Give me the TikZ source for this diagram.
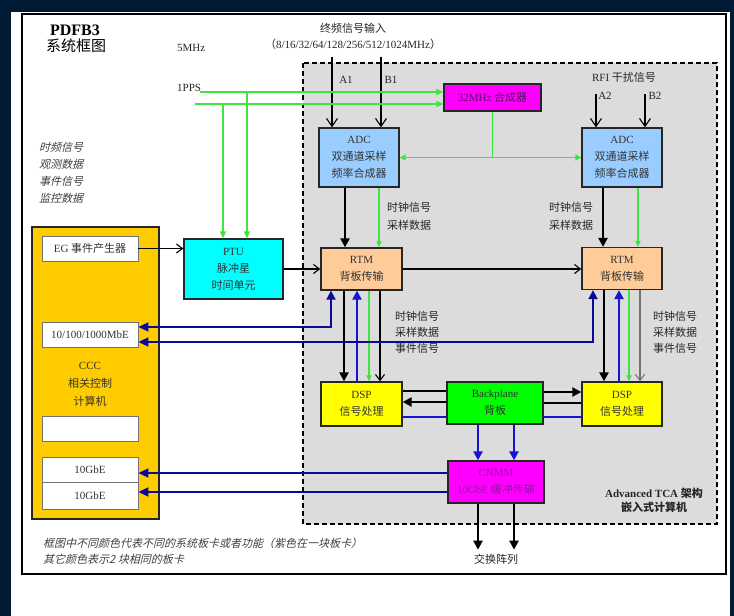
\documentclass[tikz,border=0pt]{standalone}
\usepackage{fontspec}
\setmainfont{Liberation Serif}
\newfontfamily\cj{Noto Sans CJK SC}
\newfontfamily\cjit{Noto Sans CJK SC}[FakeSlant=0.25]
\usetikzlibrary{arrows.meta}
\definecolor{navy}{RGB}{2,27,52}
\definecolor{areagray}{RGB}{220,220,220}
\definecolor{adcblue}{RGB}{153,204,255}
\definecolor{rtmpeach}{RGB}{255,204,153}
\definecolor{dspyellow}{RGB}{255,255,0}
\definecolor{bpgreen}{RGB}{0,255,0}
\definecolor{cardmag}{RGB}{255,0,255}
\definecolor{ptucyan}{RGB}{0,255,255}
\definecolor{cccgold}{RGB}{255,204,0}
\definecolor{linegreen}{RGB}{60,230,60}
\definecolor{netblue}{RGB}{20,20,210}
\definecolor{ethblue}{RGB}{10,10,150}
\definecolor{magtext}{RGB}{150,20,170}
\tikzset{
  box/.style={draw=black!85, line width=1.3pt, align=center, inner sep=0pt, text=black!80, font=\fontsize{11}{17}\selectfont},
  slot/.style={draw=black!55, line width=0.8pt, fill=white, minimum width=96pt, inner sep=0pt, text=black!80, font=\fontsize{11}{13}\selectfont},
  lbl/.style={inner sep=0pt, text=black!85, font=\fontsize{11}{17}\selectfont},
  zhlbl/.style={inner sep=0pt, align=left, text=black!85, font=\cj\fontsize{11}{18}\selectfont},
  itl/.style={inner sep=0pt, align=left, text=black!75, font=\cjit\fontsize{11}{17}\selectfont},
  bus/.style={line width=2.6pt, -{Triangle[length=9pt,width=9pt]}},
  busline/.style={line width=2.6pt},
  sig/.style={line width=1.1pt, -{Straight Barb[length=6pt,width=9pt]}},
  inarr/.style={line width=1.1pt, -{Straight Barb[length=8pt,width=11pt]}},
  clk/.style={draw=linegreen, line width=1.2pt, -{Triangle[length=6pt,width=5pt]}},
  clkboth/.style={draw=linegreen, line width=1.4pt, {Triangle[length=6pt,width=6pt]}-{Triangle[length=6pt,width=6pt]}},
  pps/.style={draw=linegreen, line width=2pt, -{Triangle[length=7pt,width=6pt]}},
  net/.style={draw=netblue, line width=2.4pt, -{Triangle[length=9pt,width=9pt]}},
  netline/.style={draw=netblue, line width=2pt},
  eth/.style={draw=ethblue, line width=1.8pt, -{Triangle[length=10pt,width=9pt]}},
  ethboth/.style={draw=ethblue, line width=1.8pt, {Triangle[length=10pt,width=9pt]}-{Triangle[length=9pt,width=9pt]}}
}
\begin{document}
\begin{tikzpicture}[x=1pt,y=-1pt,line join=miter]
\useasboundingbox (0,0) rectangle (734,616);
\fill[navy] (0,0) rectangle (734,616);
\fill[white] (11,12) rectangle (730,616);
\draw[line width=1.5pt] (22,14) rectangle (726,574);
\draw[line width=1.8pt, dash pattern=on 5pt off 3pt, fill=areagray] (303,63) rectangle (717,524);

\node[font=\bfseries\fontsize{16}{18}\selectfont] (title) at (75,30) {PDFB3};
\node[font=\cj\fontsize{15}{17}\selectfont] (titlezh) at (76,46) {系统框图};
\node[lbl, anchor=west] (mhz) at (177,48) {5MHz};
\node[lbl, anchor=west] (ppslbl) at (177,88) {1PPS};
\node[itl] (sigs) at (61,172.5) {时频信号\\观测数据\\事件信号\\监控数据};
\node[font=\cj\fontsize{11}{13}\selectfont, text=black!85] (ifin) at (353,28) {终频信号输入};
\node[lbl] (ifrange) at (353,44) {{\cj （}8/16/32/64/128/256/512/1024MHz{\cj ）}};
\node[lbl] (rfi) at (624,77) {RFI {\cj 干扰信号}};

\node[box, fill=adcblue, minimum width=80pt, minimum height=59pt] (adcL) at (359,157.5) {ADC\\{\cj 双通道采样}\\{\cj 频率合成器}};
\node[box, fill=adcblue, minimum width=80pt, minimum height=59pt] (adcR) at (622,157.5) {ADC\\{\cj 双通道采样}\\{\cj 频率合成器}};
\node[box, fill=cardmag, minimum width=97pt, minimum height=27pt, text=magtext!60!black] (syn) at (492.5,97.5) {32MHz {\cj 合成器}};
\node[box, fill=rtmpeach, minimum width=81pt, minimum height=42pt] (rtmL) at (361.5,269) {RTM\\{\cj 背板传输}};
\node[box, fill=rtmpeach, minimum width=80pt, minimum height=42pt] (rtmR) at (622,268.5) {RTM\\{\cj 背板传输}};
\node[box, fill=dspyellow, minimum width=81pt, minimum height=44pt] (dspL) at (361.5,404) {DSP\\{\cj 信号处理}};
\node[box, fill=bpgreen, minimum width=96pt, minimum height=42pt] (bp) at (495,403) {Backplane\\{\cj 背板}};
\node[box, fill=dspyellow, minimum width=80pt, minimum height=44pt] (dspR) at (622,404) {DSP\\{\cj 信号处理}};
\node[box, fill=cardmag, minimum width=96pt, minimum height=42pt, text=magtext] (cnmm) at (496,482) {CNMM\\10GbE {\cj 缓冲传输}};
\node[box, fill=ptucyan, minimum width=99pt, minimum height=60pt] (ptu) at (233.5,269) {PTU\\{\cj 脉冲星}\\{\cj 时间单元}};

\node[box, fill=cccgold, line width=2.2pt, minimum width=127pt, minimum height=292pt] (ccc) at (95.5,373) {};
\node[box, draw=none, font=\fontsize{11}{18}\selectfont] (ccctext) at (90,384) {CCC\\{\cj 相关控制}\\{\cj 计算机}};
\node[slot, minimum height=25pt] (eg) at (90,248.5) {EG {\cj 事件产生器}};
\node[slot, minimum height=25pt] (mbe) at (90,334.5) {10/100/1000MbE};
\node[slot, minimum height=25pt] (blank) at (90,428.5) {};
\node[slot, minimum height=25pt] (ge1) at (90,469.5) {10GbE};
\node[slot, minimum height=27pt] (ge2) at (90,495.5) {10GbE};

\coordinate (a1) at (332,57);
\coordinate (b1) at (381,57);
\coordinate (a2) at (596,94);
\coordinate (b2) at (645,94);
\draw[inarr] (a1) -- (a1 |- adcL.north);
\draw[inarr] (b1) -- (b1 |- adcL.north);
\draw[inarr] (a2) -- (a2 |- adcR.north);
\draw[inarr] (b2) -- (b2 |- adcR.north);
\node[lbl] (a1lbl) at (346,80) {A1};
\node[lbl] (b1lbl) at (391,80) {B1};
\node[lbl] (a2lbl) at (605,96) {A2};
\node[lbl] (b2lbl) at (655,96) {B2};

\coordinate (pps1) at (200,92);
\coordinate (pps2) at (195,104);
\coordinate (tap1) at (247,92);
\coordinate (tap2) at (223,104);
\draw[pps] (pps1) -- (pps1 -| syn.west);
\draw[pps] (pps2) -- (pps2 -| syn.west);
\draw[pps] (tap1) -- (tap1 |- ptu.north);
\draw[pps] (tap2) -- (tap2 |- ptu.north);
\draw[draw=linegreen, line width=1.4pt] (syn.south) -- (syn.south |- adcL.east);
\draw[clkboth] (adcL.east) -- (adcL.east -| adcR.west);

\draw[bus] ([xshift=-14pt]adcL.south) -- ([xshift=-14pt]adcL.south |- rtmL.north);
\draw[clk] ([xshift=20pt]adcL.south) -- ([xshift=20pt]adcL.south |- rtmL.north);
\draw[bus] ([xshift=-19pt]adcR.south) -- ([xshift=-19pt]adcR.south |- rtmR.north);
\draw[clk] ([xshift=16pt]adcR.south) -- ([xshift=16pt]adcR.south |- rtmR.north);
\node[zhlbl] (clkL) at (409,216) {时钟信号\\采样数据};
\node[zhlbl] (clkR) at (571,216) {时钟信号\\采样数据};

\draw[sig] (eg.east) -- (eg.east -| ptu.west);
\draw[sig] (ptu.east) -- (ptu.east -| rtmL.west);
\draw[sig] (rtmL.east) -- (rtmL.east -| rtmR.west);

\draw[bus] ([xshift=-17.5pt]rtmL.south) -- ([xshift=-17.5pt]rtmL.south |- dspL.north);
\draw[net] ([xshift=-4.5pt]rtmL.south |- dspL.north) -- ([xshift=-4.5pt]rtmL.south);
\draw[clk] ([xshift=7.5pt]rtmL.south) -- ([xshift=7.5pt]rtmL.south |- dspL.north);
\draw[sig] ([xshift=18.5pt]rtmL.south) -- ([xshift=18.5pt]rtmL.south |- dspL.north);
\draw[bus] ([xshift=-18pt]rtmR.south) -- ([xshift=-18pt]rtmR.south |- dspR.north);
\draw[net] ([xshift=-3pt]rtmR.south |- dspR.north) -- ([xshift=-3pt]rtmR.south);
\draw[clk] ([xshift=7pt]rtmR.south) -- ([xshift=7pt]rtmR.south |- dspR.north);
\draw[sig, draw=black!55] ([xshift=18pt]rtmR.south) -- ([xshift=18pt]rtmR.south |- dspR.north);
\node[zhlbl, font=\cj\fontsize{11}{16}\selectfont] (evL) at (417,332) {时钟信号\\采样数据\\事件信号};
\node[zhlbl, font=\cj\fontsize{11}{16}\selectfont] (evR) at (675,332) {时钟信号\\采样数据\\事件信号};

\draw[ethboth] ([yshift=7.5pt]mbe.east) -| ([xshift=-30.5pt]rtmL.south);
\draw[ethboth] ([yshift=-7.5pt]mbe.east) -| ([xshift=-29pt]rtmR.south);

\draw[busline] ([yshift=12pt]bp.west) -- ([yshift=12pt]bp.west -| dspL.east);
\draw[bus] ([yshift=1pt]bp.west) -- ([yshift=1pt]bp.west -| dspL.east);
\draw[netline] ([yshift=-13.5pt]bp.west) -- ([yshift=-13.5pt]bp.west -| dspL.east);
\draw[bus] ([yshift=11pt]bp.east) -- ([yshift=11pt]bp.east -| dspR.west);
\draw[busline] (bp.east) -- (bp.east -| dspR.west);
\draw[netline] ([yshift=-14pt]bp.east) -- ([yshift=-14pt]bp.east -| dspR.west);

\draw[net] ([xshift=-17pt]bp.south) -- ([xshift=-17pt]bp.south |- cnmm.north);
\draw[net] ([xshift=19pt]bp.south) -- ([xshift=19pt]bp.south |- cnmm.north);
\draw[eth] ([yshift=9pt]cnmm.west) -- ([yshift=9pt]cnmm.west -| ge1.east);
\draw[eth] ([yshift=-10pt]cnmm.west) -- ([yshift=-10pt]cnmm.west -| ge2.east);

\node[zhlbl] (swarr) at (496,559) {交换阵列};
\draw[bus, shorten >=4pt] ([xshift=-18pt]cnmm.south) -- ([xshift=-18pt]cnmm.south |- swarr.north);
\draw[bus, shorten >=4pt] ([xshift=18pt]cnmm.south) -- ([xshift=18pt]cnmm.south |- swarr.north);

\node[align=center, text=black!85, font=\bfseries\fontsize{11}{14}\selectfont] (atca) at (654,500) {Advanced TCA {\cj 架构}\\{\cj 嵌入式计算机}};
\node[itl, anchor=west, font=\cjit\fontsize{11}{16}\selectfont] (note) at (43,551) {框图中不同颜色代表不同的系统板卡或者功能（紫色在一块板卡）\\其它颜色表示2 块相同的板卡};
\end{tikzpicture}
\end{document}
